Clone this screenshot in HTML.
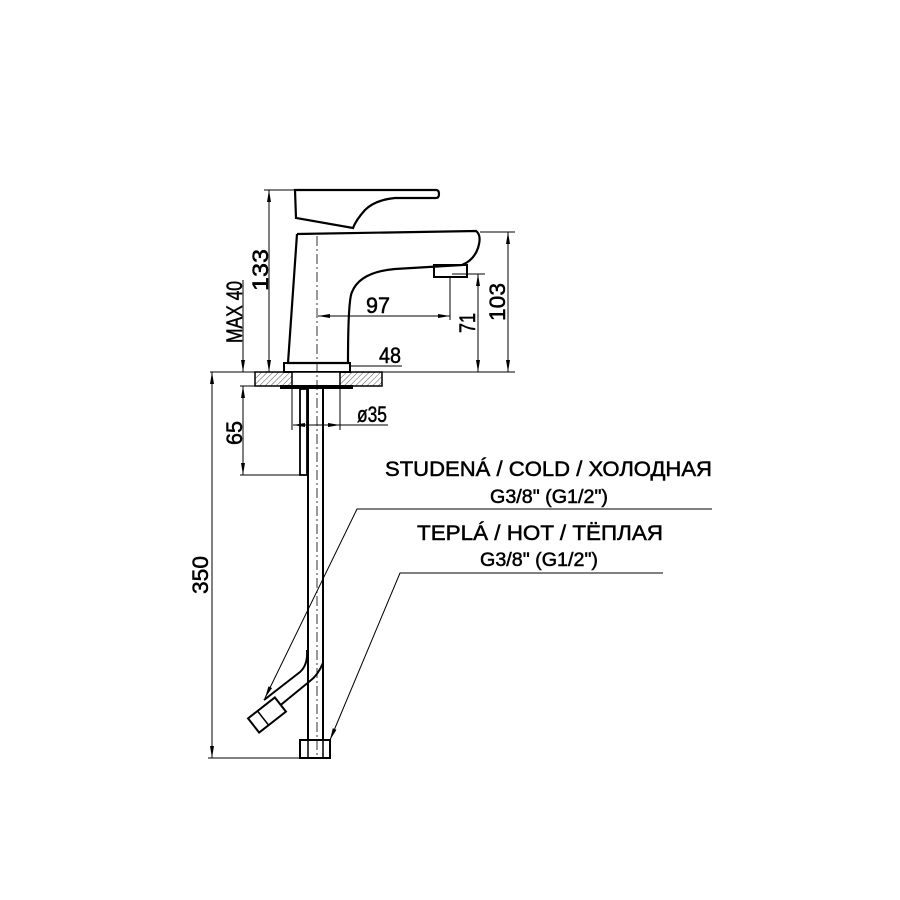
<!DOCTYPE html>
<html><head><meta charset="utf-8"><style>
html,body{margin:0;padding:0;background:#fff}
svg{display:block}
text{font-family:"Liberation Sans Narrow","Liberation Sans",sans-serif;fill:#000;stroke:#000;stroke-width:0.5}
</style></head><body>
<svg width="900" height="900" viewBox="0 0 900 900" xmlns="http://www.w3.org/2000/svg">
<defs>
<marker id="a" viewBox="0 0 12 4" refX="12" refY="2" markerWidth="12" markerHeight="4" markerUnits="userSpaceOnUse" orient="auto-start-reverse"><path d="M0,0 L12,2 L0,4 z" fill="#000"/></marker>
<pattern id="h" width="4" height="4" patternUnits="userSpaceOnUse" patternTransform="rotate(45)"><line x1="0" y1="0" x2="0" y2="4" stroke="#555" stroke-width="1"/></pattern>
</defs>
<g fill="none" stroke="#000">
<path d="M295,190 L436,190 Q439,190 439,194 Q439,198 436,198 L395,198 Q375,200 365,210 Q356,220 353,228 L296,218 Z" stroke-width="2.2" fill="#fff"/>
<path d="M297,234 L476,231 Q482,235 478,248 Q474,260 462,265 L395,269 Q360,272 352,292 Q348,300 348,363 L288,363 L297,234" stroke-width="2.2" fill="#fff"/>
<rect x="434" y="265" width="33" height="12" stroke-width="2"/>
<rect x="284" y="363" width="66" height="9" stroke-width="2"/>
<rect x="255" y="372" width="127" height="14" fill="url(#h)" stroke-width="1.5"/>
<rect x="292" y="372" width="48" height="14" fill="#fff" stroke-width="1.5"/>
<rect x="280" y="385" width="73" height="4" fill="#000" stroke="none"/>
<line x1="292" y1="389" x2="292" y2="430" stroke-width="1"/>
<line x1="340" y1="389" x2="340" y2="430" stroke-width="1"/>
<rect x="300" y="389" width="7" height="86" stroke-width="1.8"/>
<line x1="308" y1="389" x2="308" y2="740" stroke-width="2"/>
<line x1="323" y1="389" x2="323" y2="740" stroke-width="2"/>
<rect x="300" y="740" width="30" height="18" stroke-width="2"/>
<line x1="308" y1="740" x2="308" y2="758" stroke-width="1.5"/>
<line x1="323" y1="740" x2="323" y2="758" stroke-width="1.5"/>
<path d="M307,650 Q308,665 300,672 L264,700" stroke-width="2"/>
<path d="M323,663 Q318,675 310,681 L277,708" stroke-width="2"/>
<g transform="translate(267,715) rotate(-38)">
<rect x="-17" y="-9" width="34" height="18" stroke-width="2" fill="#fff"/>
<line x1="-5" y1="-9" x2="-5" y2="9" stroke-width="1.5"/>
</g>
<line x1="317" y1="236" x2="317" y2="757" stroke-width="0.8" stroke-dasharray="10,3,2,3"/>
<line x1="264" y1="190" x2="297" y2="190" stroke-width="1"/>
<line x1="210" y1="372" x2="515" y2="372" stroke-width="1"/>
<line x1="480" y1="232" x2="515" y2="232" stroke-width="1"/>
<line x1="452" y1="274" x2="485" y2="274" stroke-width="1"/>
<line x1="450" y1="277" x2="450" y2="320" stroke-width="1"/>
<line x1="240" y1="386" x2="256" y2="386" stroke-width="1"/>
<line x1="240" y1="475" x2="300" y2="475" stroke-width="1"/>
<line x1="208" y1="758" x2="300" y2="758" stroke-width="1"/>
<line x1="269" y1="190" x2="269" y2="372" stroke-width="1" marker-start="url(#a)" marker-end="url(#a)"/>
<line x1="243" y1="280" x2="243" y2="372" stroke-width="1" marker-end="url(#a)"/>
<line x1="243" y1="386" x2="243" y2="475" stroke-width="1" marker-start="url(#a)" marker-end="url(#a)"/>
<line x1="212" y1="372" x2="212" y2="758" stroke-width="1" marker-start="url(#a)" marker-end="url(#a)"/>
<line x1="318" y1="316" x2="450" y2="316" stroke-width="1" marker-start="url(#a)" marker-end="url(#a)"/>
<line x1="478" y1="274" x2="478" y2="372" stroke-width="1" marker-start="url(#a)" marker-end="url(#a)"/>
<line x1="508" y1="232" x2="508" y2="372" stroke-width="1" marker-start="url(#a)" marker-end="url(#a)"/>
<line x1="293" y1="425" x2="340" y2="425" stroke-width="1" marker-start="url(#a)" marker-end="url(#a)"/>
<line x1="340" y1="425" x2="388" y2="425" stroke-width="1"/>
<line x1="350" y1="366" x2="402" y2="366" stroke-width="1"/>
<polyline points="712,509 357,509 265,698" stroke-width="1" marker-end="url(#a)"/>
<polyline points="663,573 400,573 330,740" stroke-width="1" marker-end="url(#a)"/>
</g>
<g font-size="22">
<text transform="translate(268,270) rotate(-90)" text-anchor="middle" textLength="42" lengthAdjust="spacingAndGlyphs">133</text>
<text transform="translate(242,312) rotate(-90)" text-anchor="middle" textLength="62" lengthAdjust="spacingAndGlyphs">MAX 40</text>
<text transform="translate(242,433) rotate(-90)" text-anchor="middle" textLength="24" lengthAdjust="spacingAndGlyphs">65</text>
<text transform="translate(208,575) rotate(-90)" text-anchor="middle" textLength="38" lengthAdjust="spacingAndGlyphs">350</text>
<text x="378" y="313" text-anchor="middle" textLength="24" lengthAdjust="spacingAndGlyphs">97</text>
<text transform="translate(475,323) rotate(-90)" text-anchor="middle" textLength="20" lengthAdjust="spacingAndGlyphs">71</text>
<text transform="translate(505,302) rotate(-90)" text-anchor="middle" textLength="38" lengthAdjust="spacingAndGlyphs">103</text>
<text x="390" y="363" text-anchor="middle" textLength="22" lengthAdjust="spacingAndGlyphs">48</text>
<text x="372" y="422" text-anchor="middle" textLength="30" lengthAdjust="spacingAndGlyphs">ø35</text>
</g>
<g font-size="21">
<text x="385" y="476" textLength="327" lengthAdjust="spacingAndGlyphs">STUDENÁ  /  COLD  /  ХОЛОДНАЯ</text>
<text x="490" y="503" font-size="19" textLength="118" lengthAdjust="spacingAndGlyphs">G3/8" (G1/2")</text>
<text x="417" y="540" textLength="246" lengthAdjust="spacingAndGlyphs">TEPLÁ  /  HOT    /  ТЁПЛАЯ</text>
<text x="480" y="566" font-size="19" textLength="118" lengthAdjust="spacingAndGlyphs">G3/8" (G1/2")</text>
</g>
</svg>
</body></html>
